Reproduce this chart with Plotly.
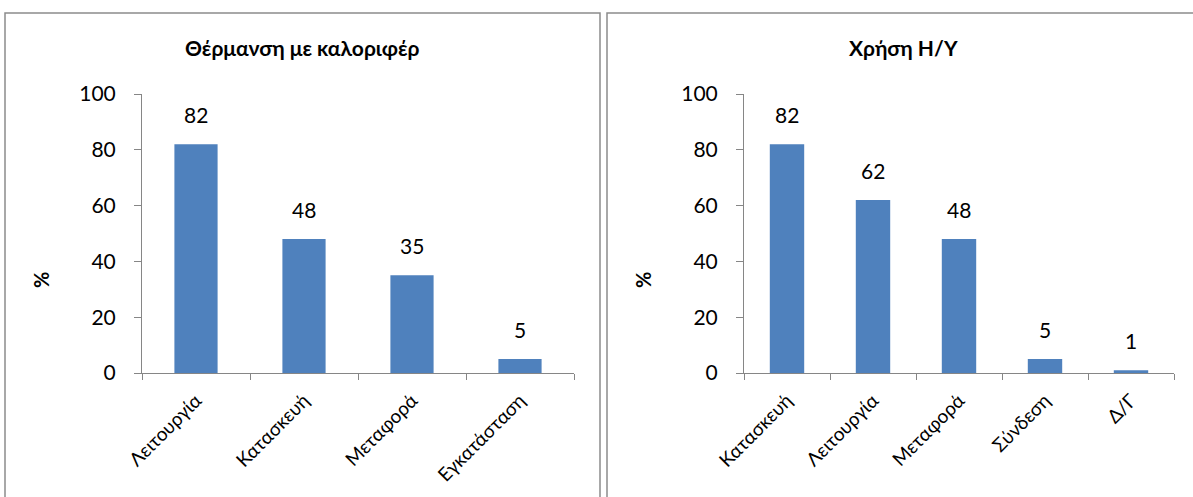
import plotly.graph_objects as go

# Panel 1: heating with radiators
heat_categories = ["Λειτουργία", "Κατασκευή", "Μεταφορά", "Εγκατάσταση"]
heat_values = [82, 48, 35, 5]
heat_title = "Θέρμανση με καλοριφέρ"

# Panel 2: computer use
pc_categories = ["Κατασκευή", "Λειτουργία", "Μεταφορά", "Σύνδεση", "Δ/Γ"]
pc_values = [82, 62, 48, 5, 1]
pc_title = "Χρήση Η/Υ"

y_ticks = [0, 20, 40, 60, 80, 100]

W, H = 1193, 497
BAR = "#4F81BD"
AXIS = "#868686"
FONT = "Lato, 'Open Sans', sans-serif"

fig = go.Figure()

fig.add_trace(go.Bar(x=heat_categories, y=heat_values, marker_color=BAR,
                     marker_line_width=0, xaxis="x", yaxis="y", showlegend=False))
fig.add_trace(go.Bar(x=pc_categories, y=pc_values, marker_color=BAR,
                     marker_line_width=0, xaxis="x2", yaxis="y2", showlegend=False))

ydom = [1 - 373 / H, 1 - 94 / H]

def xaxis_style(domain, anchor):
    return dict(domain=domain, anchor=anchor, type="category", automargin=False,
                showline=True, linecolor=AXIS, linewidth=1,
                ticks="outside", ticklen=6, tickcolor=AXIS, tickson="boundaries",
                ticklabelstandoff=8,
                tickangle=-45, tickfont=dict(family=FONT, size=19, color="#000"),
                showgrid=False, zeroline=False, fixedrange=True)

def yaxis_style(anchor):
    return dict(domain=ydom, anchor=anchor, range=[0, 100], tickvals=y_ticks,
                automargin=False,
                showline=True, linecolor=AXIS, linewidth=1,
                ticks="outside", ticklen=7, tickcolor=AXIS,
                ticklabelstandoff=14,
                tickfont=dict(family=FONT, size=21, color="#000"),
                showgrid=False, zeroline=False, fixedrange=True)

fig.update_layout(
    template="none",
    width=W, height=H,
    margin=dict(l=0, r=0, t=0, b=0, autoexpand=False),
    paper_bgcolor="white", plot_bgcolor="white",
    bargap=0.6,
    xaxis=xaxis_style([142 / W, 574 / W], "y"),
    yaxis=yaxis_style("x"),
    xaxis2=xaxis_style([744 / W, 1174 / W], "y2"),
    yaxis2=yaxis_style("x2"),
)

# Value labels above each bar
for cats, vals, xa, ya in [(heat_categories, heat_values, "x", "y"),
                           (pc_categories, pc_values, "x2", "y2")]:
    for c, v in zip(cats, vals):
        fig.add_annotation(x=c, y=v, xref=xa, yref=ya, text=str(v),
                           showarrow=False, yanchor="bottom", yshift=15,
                           font=dict(family=FONT, size=21, color="#000"))

# Panel titles and y-axis labels
for title, cx, px in [(heat_title, 302, 41), (pc_title, 903, 643)]:
    fig.add_annotation(x=cx / W, y=1 - 48 / H, xref="paper", yref="paper",
                       xanchor="center", yanchor="middle",
                       text="<b>%s</b>" % title, showarrow=False,
                       font=dict(family=FONT, size=21, color="#000"))
    fig.add_annotation(x=px / W, y=1 - 280 / H, xref="paper", yref="paper",
                       xanchor="center", yanchor="middle",
                       text="<b>%</b>", textangle=-90, showarrow=False,
                       font=dict(family=FONT, size=20, color="#000"))

# Chart frames
for x0, x1 in [(5, 600), (607, 1200)]:
    fig.add_shape(type="rect", xref="paper", yref="paper",
                  x0=x0 / W, x1=x1 / W, y0=-0.05, y1=1 - 13 / H,
                  line=dict(color="#8C8C8C", width=1.5), layer="below")

fig.write_html("out.html")
